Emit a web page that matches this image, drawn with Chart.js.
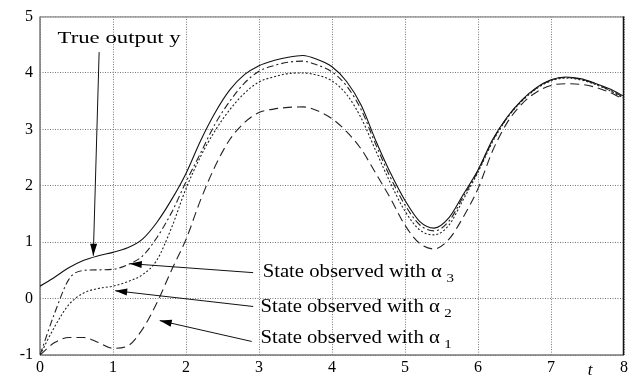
<!DOCTYPE html>
<html>
<head>
<meta charset="utf-8">
<script src="https://cdn.jsdelivr.net/npm/chart.js@4/dist/chart.umd.min.js"></script>
<style>
html,body{margin:0;padding:0;background:#fff;}
canvas{display:block;}
</style>
</head>
<body>
<canvas id="c" width="639" height="379"></canvas>
<script>
// ---- data ----
const tValues = [0,0.2,0.4,0.6,0.8,1.0,1.2,1.4,1.6,1.8,2.0,2.2,2.4,2.6,2.8,3.0,3.2,3.4,3.6,3.8,4.0,
                 4.2,4.4,4.6,4.8,5.0,5.2,5.4,5.6,5.8,6.0,6.2,6.4,6.6,6.8,7.0,7.2,7.4,7.6,7.8,8.0];
const trueOutput = [0.22,0.38,0.55,0.68,0.76,0.82,0.90,1.05,1.35,1.75,2.22,2.80,3.30,3.70,3.97,4.13,4.22,4.28,4.31,4.24,4.11,
                    3.85,3.43,2.80,2.23,1.74,1.37,1.25,1.43,1.85,2.28,2.82,3.22,3.52,3.74,3.88,3.93,3.90,3.82,3.72,3.59];
const alpha3 = [-1.0,-0.26,0.35,0.50,0.51,0.52,0.60,0.75,1.08,1.52,2.07,2.58,3.10,3.50,3.82,4.03,4.13,4.19,4.21,4.14,4.02,
                3.77,3.35,2.73,2.15,1.66,1.31,1.20,1.37,1.81,2.26,2.80,3.21,3.51,3.73,3.87,3.92,3.89,3.81,3.70,3.57];
const alpha2 = [-1.0,-0.50,-0.10,0.10,0.18,0.22,0.30,0.42,0.68,1.25,1.95,2.52,2.98,3.35,3.64,3.84,3.93,3.99,4.00,3.96,3.86,
                3.62,3.20,2.62,2.05,1.55,1.22,1.13,1.30,1.76,2.24,2.78,3.20,3.50,3.72,3.86,3.91,3.88,3.80,3.69,3.55];
const alpha1 = [-1.0,-0.78,-0.69,-0.69,-0.78,-0.88,-0.84,-0.55,-0.08,0.50,1.05,1.75,2.35,2.82,3.12,3.30,3.36,3.39,3.40,3.33,3.19,
                2.96,2.65,2.22,1.78,1.30,0.98,0.88,1.05,1.45,1.95,2.62,3.12,3.45,3.66,3.78,3.81,3.80,3.75,3.66,3.53];
const xTicks = [0,1,2,3,4,5,6,7,8];
const yTicks = [-1,0,1,2,3,4,5];
const labels = ["True output y","State observed with \u03b1","State observed with \u03b1","State observed with \u03b1"];
const subscripts = ["", "3", "2", "1"];

// annotation anchors in data units: [textT, textY, fromT, fromY, toT, toY]
const annotations = [
  [0.24, 4.61, 0.81, 4.37, 0.73, 0.76],
  [3.05, 0.46, 2.92, 0.46, 1.23, 0.62],
  [3.02, -0.16, 2.92, -0.14, 1.03, 0.14],
  [3.02, -0.70, 2.90, -0.76, 1.64, -0.39]
];

const mk = arr => tValues.map((t,i)=>({x:t,y:arr[i]}));

const SERIF = "'Liberation Serif','Times New Roman',serif";

const frame = {
  id:'frame',
  beforeDatasetsDraw(chart){
    const {ctx, chartArea:a} = chart;
    ctx.save();
    ctx.lineWidth = 1.5;
    ctx.strokeStyle = '#999';
    ctx.beginPath(); ctx.moveTo(a.left, a.top+0.5); ctx.lineTo(a.right, a.top+0.5); ctx.stroke();
    ctx.strokeStyle = '#777';
    ctx.beginPath(); ctx.moveTo(a.left, a.bottom); ctx.lineTo(a.right, a.bottom); ctx.stroke();
    ctx.beginPath(); ctx.moveTo(a.left, a.top); ctx.lineTo(a.left, a.bottom); ctx.stroke();
    ctx.strokeStyle = '#111';
    ctx.beginPath(); ctx.moveTo(a.right-0.5, a.top); ctx.lineTo(a.right-0.5, a.bottom); ctx.stroke();
    ctx.restore();
  }
};

function arrow(ctx, x1, y1, x2, y2){
  ctx.beginPath(); ctx.moveTo(x1,y1); ctx.lineTo(x2,y2); ctx.stroke();
  const ang = Math.atan2(y2-y1, x2-x1);
  const L = 12, W = 3.5;
  ctx.beginPath();
  ctx.moveTo(x2,y2);
  ctx.lineTo(x2 - L*Math.cos(ang) + W*Math.sin(ang), y2 - L*Math.sin(ang) - W*Math.cos(ang));
  ctx.lineTo(x2 - L*Math.cos(ang) - W*Math.sin(ang), y2 - L*Math.sin(ang) + W*Math.cos(ang));
  ctx.closePath(); ctx.fill();
}

const annot = {
  id:'annot',
  afterDatasetsDraw(chart){
    const {ctx, scales:{x,y}} = chart;
    ctx.save();
    ctx.fillStyle = '#000'; ctx.strokeStyle = '#111'; ctx.lineWidth = 1;
    annotations.forEach((a,i)=>{
      arrow(ctx, x.getPixelForValue(a[2]), y.getPixelForValue(a[3]), x.getPixelForValue(a[4]), y.getPixelForValue(a[5]));
      const tx = x.getPixelForValue(a[0]), ty = y.getPixelForValue(a[1]);
      const size = i===0 ? 16.5 : 18;
      const sx = i===0 ? 1.38 : 1.15;
      ctx.save();
      ctx.translate(tx, ty);
      ctx.scale(sx, 1);
      ctx.font = size + "px " + SERIF;
      ctx.textBaseline = 'middle';
      ctx.textAlign = 'left';
      ctx.fillText(labels[i], 0, 0);
      if (subscripts[i]){
        const w = ctx.measureText(labels[i]).width;
        ctx.font = "13px " + SERIF;
        ctx.fillText(subscripts[i], w + 4, 6);
      }
      ctx.restore();
    });
    // axis title t
    ctx.font = "italic 17px " + SERIF;
    ctx.textAlign = 'center'; ctx.textBaseline = 'middle';
    ctx.fillText('t', 590, 371);
    ctx.restore();
  }
};

const gridOpts = {color:'#777', lineWidth:1, drawTicks:false};

new Chart(document.getElementById('c'), {
  type:'line',
  data:{
    datasets:[
      {label:'True output y', data:mk(trueOutput), borderColor:'#111', borderWidth:1.1},
      {label:'alpha3', data:mk(alpha3), borderColor:'#222', borderWidth:1.1, borderDash:[7,3,2,3]},
      {label:'alpha2', data:mk(alpha2), borderColor:'#222', borderWidth:1.1, borderDash:[2,2]},
      {label:'alpha1', data:mk(alpha1), borderColor:'#222', borderWidth:1.1, borderDash:[9,5]}
    ]
  },
  options:{
    responsive:false, animation:false,
    parsing:true,
    elements:{point:{radius:0}, line:{tension:0.4, cubicInterpolationMode:'monotone', fill:false}},
    layout:{padding:{top:13, right:15, left:0, bottom:0}},
    plugins:{legend:{display:false}, tooltip:{enabled:false}},
    scales:{
      x:{type:'linear', min:0, max:8,
         afterBuildTicks: s => { s.ticks = xTicks.map(v=>({value:v})); },
         afterFit: s => { s.height = 24; },
         grid:{...gridOpts},
         border:{display:false, dash:[1,1.5]},
         ticks:{font:{family:SERIF, size:16}, color:'#000', padding:3, maxRotation:0}
      },
      y:{type:'linear', min:-1, max:5,
         afterBuildTicks: s => { s.ticks = yTicks.map(v=>({value:v})); },
         afterFit: s => { s.width = 40; },
         grid:{...gridOpts},
         border:{display:false, dash:[1,1.5]},
         ticks:{font:{family:SERIF, size:16}, color:'#000', padding:7}
      }
    }
  },
  plugins:[frame, annot]
});
</script>
</body>
</html>
